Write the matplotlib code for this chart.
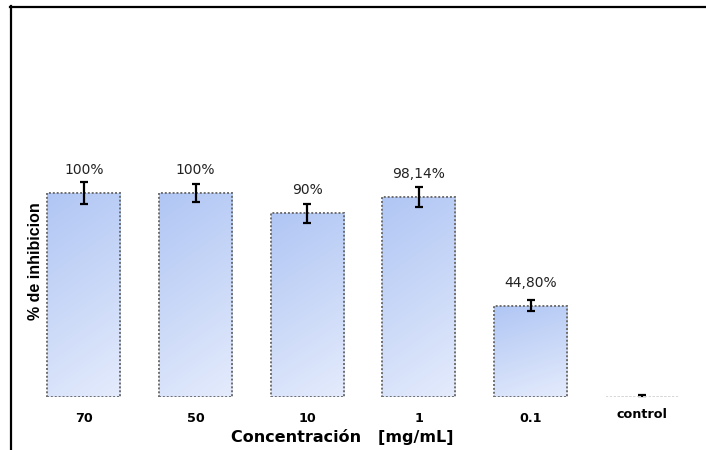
import numpy as np
import matplotlib
matplotlib.use('Agg')
import matplotlib.pyplot as plt
from matplotlib.lines import Line2D

# data
categories = ['70', '50', '10', '1', '0.1', 'control']
values = [100, 100, 90, 98.14, 44.80, 0]
errors = [5.2, 4.6, 4.6, 4.9, 2.7, 1.0]
value_labels = ['100%', '100%', '90%', '98,14%', '44,80%', '']

fig = plt.figure(figsize=(7.06, 4.5), dpi=100)
fig.patch.set_facecolor('white')

# axes placed so baseline / scale match the picture
ax = fig.add_axes([28/706, 53/450, 670/706, 367.2/450])
for s in ax.spines.values():
    s.set_visible(False)
ax.set_yticks([])

x = np.arange(len(categories))
bar_w = 0.655

# gradient fill: a bit darker at the top-left, lighter towards the bottom
dark = np.array([176, 198, 244]) / 255.0
light = np.array([228, 235, 252]) / 255.0
gy, gx = np.mgrid[0:1:80j, 0:1:30j]
t = np.clip(0.8 * (1 - gy) + 0.2 * (1 - gx), 0, 1)[..., None]
grad = light * (1 - t) + dark * t

bars = ax.bar(x, values, width=bar_w, facecolor='none', edgecolor='#6e6e6e',
              linestyle=(0, (1, 1)), linewidth=1.4, zorder=3)
for b, v in zip(bars, values):
    if v <= 0:
        b.set_edgecolor('#d8d8d8')
        continue
    x0 = b.get_x()
    im = ax.imshow(grad, extent=[x0, x0 + bar_w, 0, v], origin='upper',
                   aspect='auto', zorder=2, interpolation='bilinear')
    im.set_clip_path(b)

ax.set_xlim(-0.5, 5.5)
ax.set_ylim(0, 180)

ax.errorbar(x, values, yerr=errors, fmt='none', ecolor='black', elinewidth=1.6,
            capsize=3.2, capthick=1.6, zorder=4)

for xi, v, lab in zip(x, values, value_labels):
    if lab:
        ax.annotate(lab, (xi, v), xytext=(0, 16.5), textcoords='offset points',
                    ha='center', va='center', fontsize=10, family='DejaVu Sans',
                    color='#222222')

ax.set_xticks(x)
ax.set_xticklabels(categories, fontsize=9.2, fontweight='bold', family='DejaVu Sans')
ax.tick_params(axis='x', length=0, pad=11)
ax.get_xticklabels()[-1].set_y(0.012)

fig.text(342/706, 1 - 437/450, 'Concentración   [mg/mL]', ha='center', va='center',
         fontsize=11.5, fontweight='bold', family='DejaVu Sans')
fig.text(36/706, 1 - 261/450, '% de inhibicion', ha='center', va='center',
         rotation=90, fontsize=11.5, fontweight='bold', family='Liberation Sans')

# frame lines of the original picture
fig.add_artist(Line2D([10.5/706, 10.5/706], [0, 1 - 6/450], transform=fig.transFigure,
                      color='black', linewidth=1.6))
fig.add_artist(Line2D([10/706, 1], [1 - 6.5/450, 1 - 6.5/450], transform=fig.transFigure,
                      color='black', linewidth=1.6))

fig.savefig('out.png', dpi=100, facecolor='white')
